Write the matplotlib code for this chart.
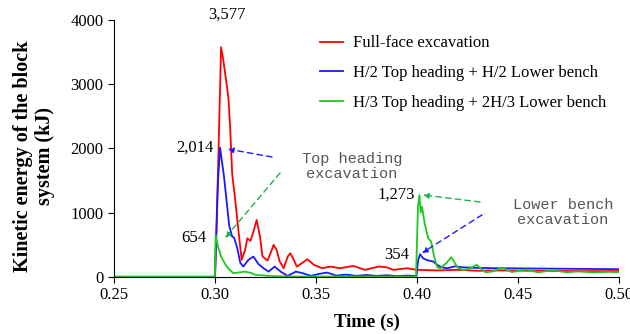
import matplotlib
matplotlib.use("Agg")
import matplotlib.pyplot as plt

# Full-face excavation
t_full = [0.25, 0.2999, 0.3000, 0.3016, 0.3030, 0.3040, 0.3066, 0.3074, 0.3085, 0.3100,
          0.3110, 0.3120, 0.3132, 0.3149, 0.3160, 0.3175, 0.3190, 0.3206, 0.3222, 0.3235,
          0.3248, 0.3260, 0.3275, 0.3290, 0.3305, 0.3320, 0.3340, 0.3360, 0.3373, 0.3390,
          0.3405, 0.3430, 0.3457, 0.3490, 0.3530, 0.3570, 0.3619, 0.3685, 0.3742, 0.3809,
          0.3850, 0.3883, 0.3949, 0.4000, 0.4100, 0.4200, 0.4300, 0.4400, 0.4600, 0.4800,
          0.5000]
e_full = [0, 0, 0, 1800, 3577, 3400, 2800, 2390, 1600, 1200,
          900, 600, 265, 420, 600, 560, 700, 887, 640, 320,
          285, 255, 370, 498, 420, 240, 135, 316, 369, 265,
          160, 213, 275, 187, 135, 160, 135, 171, 109, 160,
          150, 109, 135, 110, 100, 110, 95, 100, 95, 90,
          90]

# H/2 top heading + H/2 lower bench
t_half = [0.25, 0.2999, 0.3000, 0.3015, 0.3025, 0.3045, 0.3060, 0.3070, 0.3085, 0.3095,
          0.3110, 0.3125, 0.3140, 0.3165, 0.3190, 0.3215, 0.3240, 0.3265, 0.3295, 0.3325,
          0.3360, 0.3400, 0.3435, 0.3475, 0.3515, 0.3555, 0.3600, 0.3650, 0.3700, 0.3750,
          0.3800, 0.3850, 0.3900, 0.3950, 0.3998, 0.4005, 0.4015, 0.4030, 0.4050, 0.4080,
          0.4100, 0.4120, 0.4150, 0.4190, 0.4220, 0.4300, 0.4400, 0.4600, 0.4800, 0.5000]
e_half = [0, 0, 0, 1500, 2014, 1550, 1100, 800, 627, 607,
          450, 220, 160, 265, 316, 200, 135, 82, 160, 82,
          15, 82, 57, 15, 47, 67, 20, 35, 15, 30,
          15, 25, 12, 20, 15, 250, 354, 290, 260, 240,
          190, 150, 135, 165, 150, 140, 135, 130, 125, 120]

# H/3 top heading + 2H/3 lower bench
t_third = [0.25, 0.2999, 0.3003, 0.3015, 0.3030, 0.3050, 0.3065, 0.3090, 0.3120, 0.3150,
           0.3180, 0.3200, 0.3250, 0.3300, 0.3400, 0.3995, 0.4005, 0.4012, 0.4018, 0.4025,
           0.4038, 0.4055, 0.4070, 0.4085, 0.4100, 0.4115, 0.4145, 0.4170, 0.4200, 0.4225,
           0.4250, 0.4295, 0.4340, 0.4380, 0.4420, 0.4470, 0.4540, 0.4600, 0.4670, 0.4740,
           0.4800, 0.4870, 0.4950, 0.5000]
e_third = [5, 5, 654, 471, 316, 200, 135, 57, 70, 82,
           60, 31, 20, 10, 5, 5, 1100, 1273, 1000, 1094,
           835, 602, 550, 316, 150, 135, 213, 306, 150, 109,
           115, 187, 70, 90, 145, 75, 115, 70, 105, 72,
           85, 70, 78, 72]

labels = ["Full-face excavation",
          "H/2 Top heading + H/2 Lower bench",
          "H/3 Top heading + 2H/3 Lower bench"]
colors = ["#ff0000", "#1a1aff", "#1ec81e"]

plt.rcParams["font.family"] = ["Liberation Serif", "DejaVu Serif"]

fig = plt.figure(figsize=(6.3, 3.34), dpi=100)
ax = fig.add_axes([0.181, 0.171, 0.8015, 0.769])

ax.plot(t_full, e_full, color=colors[0], lw=1.3, label=labels[0])
ax.plot(t_half, e_half, color=colors[1], lw=1.3, label=labels[1])
ax.plot(t_third, e_third, color=colors[2], lw=1.3, label=labels[2])

ax.set_xlim(0.25, 0.50)
ax.set_ylim(0, 4000)
ax.set_xticks([0.25, 0.30, 0.35, 0.40, 0.45, 0.50])
ax.set_xticklabels(["0.25", "0.30", "0.35", "0.40", "0.45", "0.50"])
ax.set_yticks([0, 1000, 2000, 3000, 4000])
ax.tick_params(axis="both", labelsize=12, direction="out", length=4, width=0.8)
ax.spines["top"].set_visible(False)
ax.spines["right"].set_visible(False)

ax.set_xlabel("Time (s)", fontsize=13.5, fontweight="bold")
ax.xaxis.set_label_coords(0.5, -0.145)
ax.set_ylabel("Kinetic energy of the block\nsystem (kJ)", fontsize=14.5, fontweight="bold",
              linespacing=1.15)
ax.yaxis.set_label_coords(-0.117, 0.47)

ax.legend(loc="upper left", bbox_to_anchor=(0.408, 0.94), frameon=False, fontsize=12,
          borderaxespad=0, borderpad=0, handlelength=1.4, handletextpad=0.6,
          labelspacing=0.83)

# peak values
ax.text(0.3057, 4080, "3,577", ha="center", va="center", fontsize=12)
ax.text(0.2995, 2007, "2,014", ha="right", va="center", fontsize=12)
ax.text(0.2955, 607, "654", ha="right", va="center", fontsize=12)
ax.text(0.3990, 1276, "1,273", ha="right", va="center", fontsize=12)
ax.text(0.3960, 342, "354", ha="right", va="center", fontsize=12)

mono = ["Liberation Mono", "DejaVu Sans Mono"]
ax.text(0.3677, 1719, "Top heading\nexcavation", ha="center", va="center", fontsize=11,
        family=mono, color="#555555", linespacing=1.1)
ax.text(0.4723, 1004, "Lower bench\nexcavation", ha="center", va="center", fontsize=11,
        family=mono, color="#555555", linespacing=1.1)

def arrow(x0, y0, x1, y1, c):
    ax.annotate("", xy=(x1, y1), xytext=(x0, y0),
                arrowprops=dict(arrowstyle="-|>", color=c, lw=1.0, ls=(0, (4, 3)),
                                mutation_scale=8, shrinkA=0, shrinkB=0))

arrow(0.3282, 1867, 0.3064, 1990, "#1a1aff")
arrow(0.3322, 1618, 0.3050, 607, "#1eb050")
arrow(0.4312, 1167, 0.4030, 1276, "#1eb050")
arrow(0.4322, 965, 0.4025, 373, "#1a1aff")

fig.savefig("out.png", dpi=100)
